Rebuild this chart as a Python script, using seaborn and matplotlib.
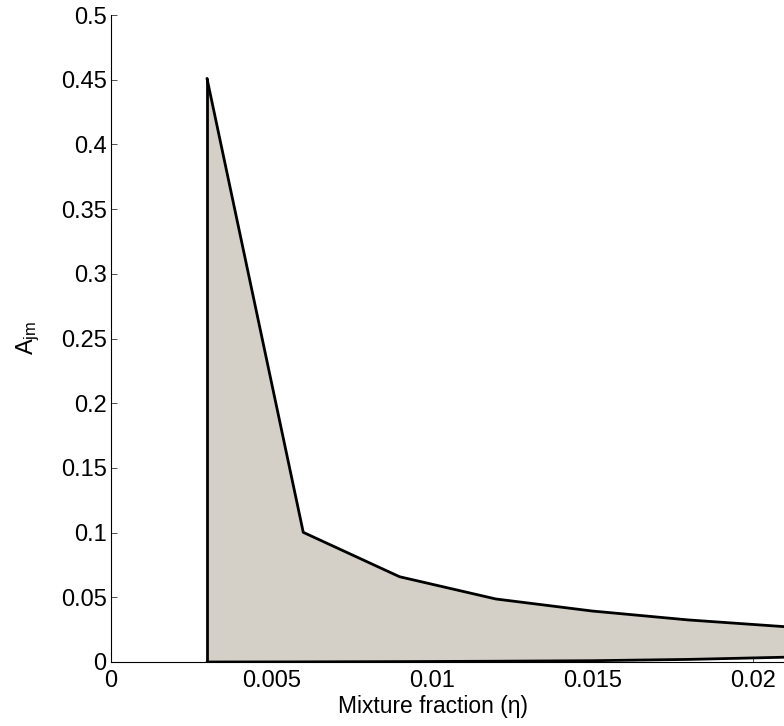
import numpy as np
import pandas as pd
import matplotlib
matplotlib.use("Agg")
import matplotlib.pyplot as plt
import seaborn as sns

# Data
eta = [0.003, 0.006, 0.009, 0.012, 0.015, 0.018, 0.021]
upper = [0.451, 0.1002, 0.0659, 0.0487, 0.0394, 0.0325, 0.0273]
lower = [0.0, 0.0001, 0.0003, 0.0006, 0.0010, 0.0020, 0.0037]
xticks = [0, 0.005, 0.01, 0.015, 0.02]
yticks = [0, 0.05, 0.1, 0.15, 0.2, 0.25, 0.3, 0.35, 0.4, 0.45, 0.5]

sns.set_theme(style="white")
plt.rcParams['font.family'] = ['Liberation Sans', 'DejaVu Sans']
plt.rcParams['mathtext.fontset'] = 'custom'
plt.rcParams['mathtext.rm'] = 'Liberation Sans'
plt.rcParams['mathtext.it'] = 'Liberation Sans'

W, H = 784, 726
fig = plt.figure(figsize=(W / 100, H / 100), dpi=100)
x0, x1 = 110.7, 784.0
y0, y1 = 662.0, 15.0
ax = fig.add_axes([x0 / W, (H - y0) / H, (x1 - x0) / W, (y0 - y1) / H])

df = pd.DataFrame({"eta": eta, "upper": upper, "lower": lower})

ax.fill_between(df["eta"], df["lower"], df["upper"], facecolor="#d4d0c8",
                edgecolor="none", zorder=1)
sns.lineplot(data=df, x="eta", y="upper", color="black", linewidth=2.0,
             ax=ax, zorder=3)
sns.lineplot(data=df, x="eta", y="lower", color="black", linewidth=2.0,
             ax=ax, zorder=3)
ax.vlines(df["eta"].iloc[0], df["lower"].iloc[0], df["upper"].iloc[0],
          color="black", linewidth=2.0, zorder=3)

xscale = (752.6 - 110.7) / 0.02
ax.set_xlim(0, (x1 - x0) / xscale)
ax.set_ylim(0, 0.5)
ax.set_xticks(xticks)
ax.set_xticklabels([f"{v:g}" for v in xticks])
ax.set_yticks(yticks)
ax.set_yticklabels([f"{v:g}" for v in yticks])

ax.set_axisbelow(True)
ax.tick_params(axis="both", direction="in", length=4.3, width=0.6,
               color="#333333", labelsize=17, labelcolor="black")
ax.tick_params(axis="y", pad=3, left=True)
ax.tick_params(axis="x", pad=6, bottom=True)

for s in ["top", "right"]:
    ax.spines[s].set_visible(False)
for s in ["left", "bottom"]:
    ax.spines[s].set_color("black")
    ax.spines[s].set_linewidth(0.8)

ax.set_xlabel("Mixture fraction (η)", fontsize=16.4, color="black")
ax.set_ylabel(r"A$_{\mathregular{jm}}$", fontsize=17, color="black")
ax.xaxis.set_label_coords((433 - x0) / (x1 - x0), -(707 - y0) / (y0 - y1))
ax.yaxis.set_label_coords(-(x0 - 28) / (x1 - x0), (y0 - 338) / (y0 - y1))
ax.xaxis.label.set_va("center")
ax.yaxis.label.set_va("center")
ax.grid(False)
ax.set_facecolor("white")

fig.savefig("out.png", dpi=100)
